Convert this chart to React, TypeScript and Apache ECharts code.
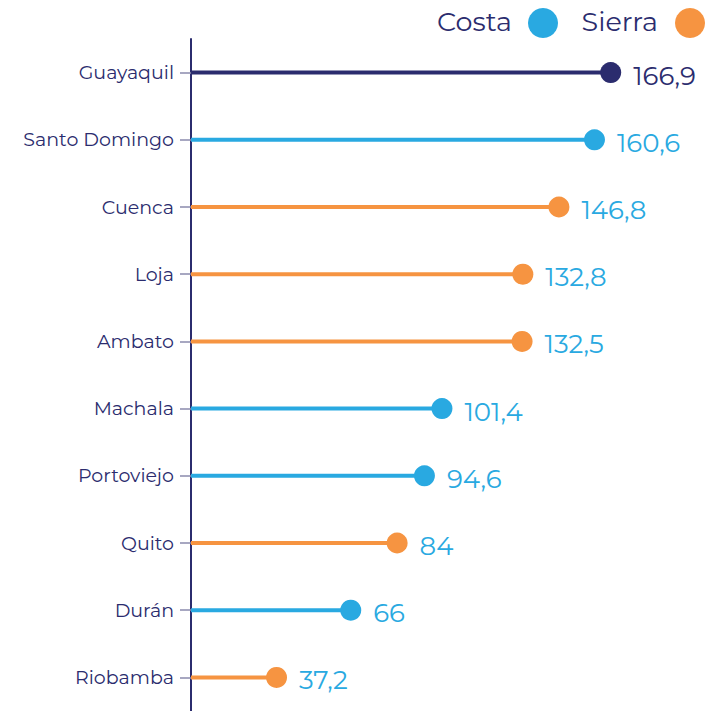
import React, { useEffect, useRef } from "react";
import * as echarts from "echarts";

const cities = ["Guayaquil", "Santo Domingo", "Cuenca", "Loja", "Ambato", "Machala", "Portoviejo", "Quito", "Durán", "Riobamba"];
const values = [166.9, 160.6, 146.8, 132.8, 132.5, 101.4, 94.6, 84, 66, 37.2];
const regions = ["Costa", "Costa", "Sierra", "Sierra", "Sierra", "Costa", "Costa", "Sierra", "Costa", "Sierra"];
const highlighted = ["Guayaquil"];
const legendNames = ["Costa", "Sierra"];

const NAVY = "#2b2c6e";
const BLUE = "#29a9e1";
const ORANGE = "#f69441";
const FONT = "Montserrat, Inter, 'Noto Sans', sans-serif";

const regionColor = (r: string) => (r === "Costa" ? BLUE : ORANGE);
const fmt = (v: number) => String(v).replace(".", ",");

export default function App() {
  const ref = useRef<HTMLDivElement>(null);
  useEffect(() => {
    document.body.style.margin = "0";
    const chart = echarts.init(ref.current!, null, { renderer: "svg" });

    const barData = cities.map((c, i) => ({
      value: values[i],
      itemStyle: { color: highlighted.includes(c) ? NAVY : regionColor(regions[i]) },
    }));

    const scatterFor = (region: string) =>
      cities
        .map((c, i) => ({ c, i }))
        .filter(({ i }) => regions[i] === region)
        .map(({ c, i }) => {
          const hi = highlighted.includes(c);
          return {
            value: [values[i], c],
            itemStyle: { color: hi ? NAVY : regionColor(region), opacity: 1 },
            label: { color: hi ? NAVY : BLUE },
          };
        });

    const scatterSeries = legendNames.map((name) => ({
      name,
      type: "scatter",
      symbol: "circle",
      symbolSize: 21,
      z: 5,
      data: scatterFor(name),
      itemStyle: { color: regionColor(name), opacity: 1 },
      label: {
        show: true,
        position: "right",
        distance: 12,
        offset: [0, 3],
        fontFamily: FONT,
        fontSize: 26,
        color: BLUE,
        formatter: (p: any) => fmt(p.value[0]),
      },
    }));

    chart.setOption({
      animation: false,
      textStyle: { fontFamily: FONT },
      grid: { left: 191, right: 23, top: 39, height: 678, containLabel: false },
      xAxis: {
        type: "value",
        min: 4,
        max: 200,
        show: false,
        splitLine: { show: false },
      },
      yAxis: {
        type: "category",
        data: cities,
        inverse: true,
        axisLine: { show: true, lineStyle: { color: NAVY, width: 2 } },
        axisTick: { show: true, alignWithLabel: true, length: 11, lineStyle: { color: "#8a8aad", width: 1.5 } },
        axisLabel: { margin: 17, fontFamily: FONT, fontSize: 19, color: NAVY },
        splitLine: { show: false },
      },
      series: [
        {
          name: "line",
          type: "bar",
          barWidth: 4,
          z: 2,
          data: barData,
        },
        ...scatterSeries,
      ],
      graphic: [
        { type: "text", right: 719 - 512, top: 8, style: { text: "Costa", fontFamily: FONT, fontSize: 27, fill: NAVY } },
        { type: "circle", shape: { cx: 543, cy: 23, r: 15 }, style: { fill: BLUE } },
        { type: "text", right: 719 - 658, top: 8, style: { text: "Sierra", fontFamily: FONT, fontSize: 27, fill: NAVY } },
        { type: "circle", shape: { cx: 690, cy: 23, r: 15 }, style: { fill: ORANGE } },
      ],
    });
    return () => chart.dispose();
  }, []);
  return <div ref={ref} style={{ position: "absolute", left: 0, top: 0, width: 719, height: 711 }} />;
}
